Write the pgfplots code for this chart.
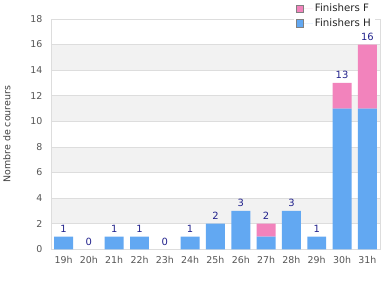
\documentclass[border=0pt]{standalone}
\usepackage{pgfplots}
\pgfplotsset{compat=1.18}
\usepackage{fontspec}
\setmainfont{DejaVu Sans}
\definecolor{barH}{HTML}{62A8F2}
\definecolor{barF}{HTML}{F283BC}
\definecolor{lbl}{HTML}{22228C}
\definecolor{tickc}{HTML}{555555}
\definecolor{gridc}{HTML}{DDDDDD}
\definecolor{bandc}{HTML}{F2F2F2}
\pgfplotstableread{
x H F T
0 1 0 1
1 0 0 0
2 1 0 1
3 1 0 1
4 0 0 0
5 1 0 1
6 2 0 2
7 3 0 3
8 1 1 2
9 3 0 3
10 1 0 1
11 11 2 13
12 11 5 16
}\datatable
\pgfplotsset{common/.style={
  scale only axis,
  width=330bp, height=231bp,
  anchor=south west, at={(0,0)},
  xmin=-0.5, xmax=12.5,
  ymin=0, ymax=18,
  /pgf/number format/assume math mode=true,
}}
\begin{document}
\begin{tikzpicture}
% background bands
\begin{axis}[common, hide axis]
\fill[bandc] (axis cs:-0.5,2) rectangle (axis cs:12.5,4);
\fill[bandc] (axis cs:-0.5,6) rectangle (axis cs:12.5,8);
\fill[bandc] (axis cs:-0.5,10) rectangle (axis cs:12.5,12);
\fill[bandc] (axis cs:-0.5,14) rectangle (axis cs:12.5,16);
\end{axis}
\begin{axis}[
  common,
  ytick={0,2,...,18},
  xtick={0,...,12},
  xticklabels={19h,20h,21h,22h,23h,24h,25h,26h,27h,28h,29h,30h,31h},
  ybar stacked,
  bar width=19bp,
  axis line style={gridc},
  major tick length=0pt,
  ymajorgrids,
  grid style={gridc, line width=0.6pt},
  tick label style={font=\fontsize{9.5}{10}\selectfont, text=tickc},
  yticklabel style={xshift=-5bp},
  xticklabel style={yshift=-3bp},
  ylabel={Nombre de coureurs},
  ylabel style={font=\fontsize{9.5}{10}\selectfont, text=black!75, yshift=13bp},
  legend style={at={(rel axis cs:1,1)}, anchor=north east, yshift=19bp, xshift=-5bp,
    draw=none, fill=white, font=\fontsize{10.3}{11}\selectfont, text=black!85,
    row sep=1.5bp, inner sep=2bp, cells={anchor=west}},
  legend image code/.code={\path (0bp,0bp) -- (17bp,0bp);
    \draw[#1, draw=gray, line width=0.8pt] (0bp,-3.8bp) rectangle (7.6bp,3.8bp);},
  reverse legend,
]
\addplot[fill=barH, draw=none] table[x=x, y=H] {\datatable};
\addlegendentry{Finishers H}
\addplot[fill=barF, draw=none] table[x=x, y=F] {\datatable};
\addlegendentry{Finishers F}
\end{axis}
% total labels
\begin{axis}[common, hide axis]
\addplot[draw=none, mark=none, nodes near coords, point meta=explicit,
  every node near coord/.append style={font=\fontsize{10}{11}\selectfont, text=lbl, anchor=south, yshift=0.5bp}
  ] table[x=x, y=T, meta=T] {\datatable};
\end{axis}
\path[use as bounding box] (-50bp,-50bp) rectangle (340bp,250bp);
\end{tikzpicture}
\end{document}
